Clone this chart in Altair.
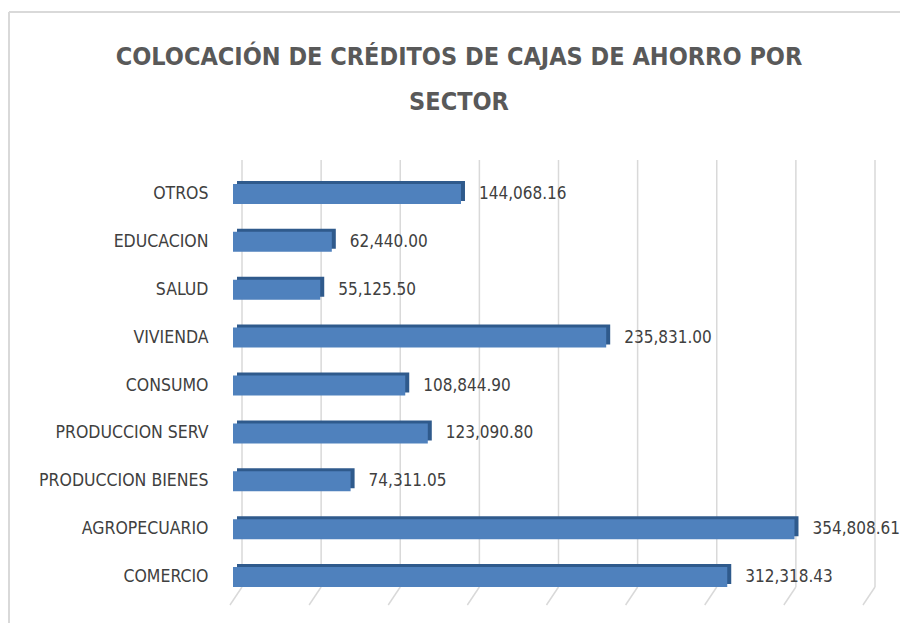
import altair as alt
import pandas as pd

sectores = ["OTROS", "EDUCACION", "SALUD", "VIVIENDA", "CONSUMO",
            "PRODUCCION SERV", "PRODUCCION BIENES", "AGROPECUARIO", "COMERCIO"]
valores = [144068.16, 62440.00, 55125.50, 235831.00, 108844.90,
           123090.80, 74311.05, 354808.61, 312318.43]
ticks = [0, 50000, 100000, 150000, 200000, 250000, 300000, 350000, 400000]

titulo = ["COLOCACIÓN DE CRÉDITOS DE CAJAS DE AHORRO POR", "SECTOR"]

FONT = "DejaVu Sans Condensed, sans-serif"
W, H = 633, 431

df = pd.DataFrame({"sector": sectores, "valor": valores})
dt = pd.DataFrame({"t": ticks})

xs = alt.Scale(domain=[0, 400000], nice=False, zero=True)
ys = alt.Scale(domain=sectores, paddingInner=0.5, paddingOuter=0.25)

one = pd.DataFrame({"a": [0]})
border_top = alt.Chart(one).mark_rule(color="#d9d9d9", strokeWidth=2).encode(
    x=alt.value(-233), x2=alt.value(W + 100), y=alt.value(-158)
)
border_left = alt.Chart(one).mark_rule(color="#d9d9d9", strokeWidth=2).encode(
    x=alt.value(-233), y=alt.value(-158), y2=alt.value(H + 100)
)

title_mark = alt.Chart(one).mark_text(
    text=titulo, fontSize=25, font=FONT, fontWeight="bold", color="#595959",
    align="center", baseline="alphabetic", lineHeight=45
).encode(x=alt.value(217), y=alt.value(-105))

grid = alt.Chart(dt).mark_rule(color="#d9d9d9", strokeWidth=1.5).encode(
    x=alt.X("t:Q", scale=xs, axis=None),
    y=alt.value(-10), y2=alt.value(H - 14)
)

floor = alt.Chart(dt).transform_calculate(
    t2="datum.t - 7600"
).mark_rule(color="#d9d9d9", strokeWidth=1.5).encode(
    x=alt.X("t:Q", scale=xs, axis=None), x2="t2:Q",
    y=alt.value(H - 14), y2=alt.value(H + 4)
)

base = alt.Chart(df).encode(
    y=alt.Y("sector:N", scale=ys, sort=sectores,
            axis=alt.Axis(title=None, domain=False, ticks=False,
                          labelPadding=34, labelFontSize=17.5, labelLimit=0,
                          labelFont=FONT, labelColor="#404040")),
)

side = base.mark_bar(size=20, color="#2f5a8c", xOffset=-5, x2Offset=-5,
                     yOffset=-3, y2Offset=-3).encode(
    x=alt.X("valor:Q", scale=xs, axis=None)
)

front = base.mark_bar(size=20, color="#4f81bd", xOffset=-9, x2Offset=-9).encode(
    x=alt.X("valor:Q", scale=xs, axis=None)
)

labels = base.mark_text(align="left", baseline="middle", dx=9, fontSize=17,
                        font=FONT, color="#404040").encode(
    x=alt.X("valor:Q", scale=xs, axis=None),
    text=alt.Text("valor:Q", format=",.2f")
)

chart = alt.layer(border_top, border_left, title_mark, grid, floor,
                  side, front, labels).properties(
    width=W, height=H,
    autosize=alt.AutoSizeParams(type="none"),
    padding={"left": 234, "top": 162, "right": 25, "bottom": 22},
).configure_view(stroke=None)

chart.save("out.html", embed_options={"renderer": "svg", "actions": False})
